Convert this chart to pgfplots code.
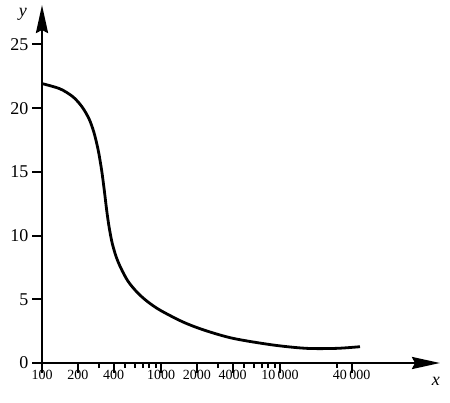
\documentclass[border=0pt]{standalone}
\usepackage{fontspec}
\setmainfont{Liberation Serif}
\usepackage{pgfplots}
\pgfplotsset{compat=1.18}
\usetikzlibrary{arrows.meta}
\begin{document}
\begin{tikzpicture}
\path[use as bounding box] (-42pt,-39pt) rectangle (408pt,363pt);
\begin{axis}[
    scale only axis,
    width=398pt, height=358pt,
    xmode=log,
    xmin=100, xmax=221000,
    ymin=0, ymax=28.1,
    axis lines=left,
    axis line style={line width=2.8pt, -{Stealth[length=28pt,width=12pt,inset=3pt]}},
    tick align=outside,
    major tick length=10pt,
    minor tick length=5pt,
    every tick/.style={black, line width=2pt},
    xtick={100,200,400,1000,2000,4000,10000,40000},
    xticklabels={100,200,400,1000,2000,4000,10\,000,40\,000},
    minor xtick={300,500,600,700,800,900,3000,5000,6000,7000,8000,9000,30000},
    ytick={0,5,10,15,20,25},
    /pgf/number format/assume math mode=true,
    xticklabel style={font=\fontsize{14}{16}\selectfont, yshift=6pt},
    yticklabel style={font=\fontsize{18}{20}\selectfont},
    xlabel={\fontsize{18}{20}\selectfont\itshape x},
    xlabel style={at={(axis description cs:1,0)}, anchor=north east, inner sep=0pt, yshift=-14pt},
    ylabel={\fontsize{18}{20}\selectfont\itshape y},
    ylabel style={at={(axis description cs:0,1)}, anchor=north east, rotate=-90, inner sep=0pt, xshift=-15pt, yshift=-3pt},
]
\addplot[black, line width=2.8pt, smooth, tension=0.5] coordinates {
(100,21.93) (141.7,21.52) (182.2,20.89) (216.8,20.11) (248.3,19.17)
(273.5,18.08) (297.2,16.67) (317.4,15.10) (333.9,13.54) (349.8,11.97)
(365.6,10.72) (387.6,9.47) (418.8,8.37) (461.1,7.43) (528.0,6.42)
(628.6,5.56) (763.0,4.85) (980.9,4.15) (1530,3.22) (2343,2.56)
(4051,1.93) (8785,1.41) (16766,1.15) (29950,1.15) (47010,1.28)
};
\end{axis}
\end{tikzpicture}
\end{document}
